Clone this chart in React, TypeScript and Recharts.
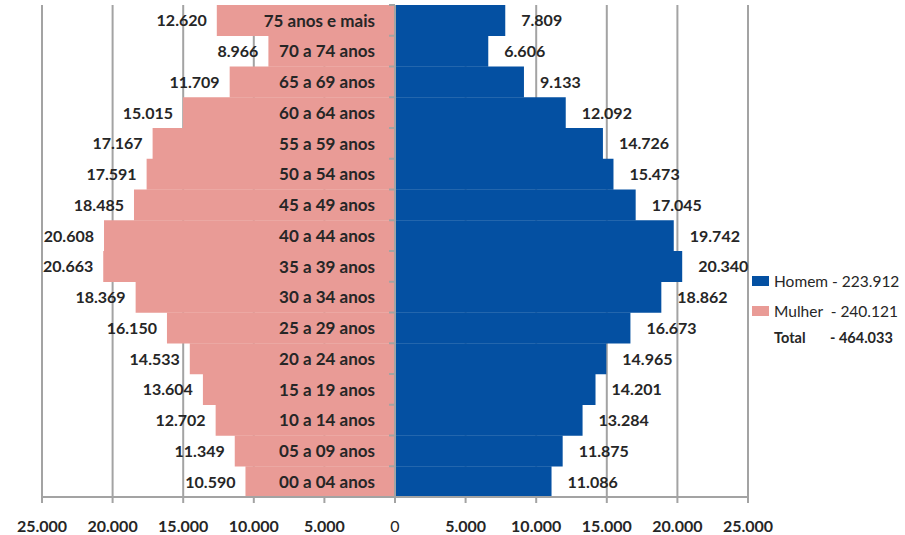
import React from 'react';
import {
  BarChart,
  Bar,
  XAxis,
  YAxis,
  CartesianGrid,
  ReferenceLine,
  LabelList,
  Legend,
} from 'recharts';

// faixas etárias, de cima para baixo
const faixas = [
  '75 anos e mais',
  '70 a 74 anos',
  '65 a 69 anos',
  '60 a 64 anos',
  '55 a 59 anos',
  '50 a 54 anos',
  '45 a 49 anos',
  '40 a 44 anos',
  '35 a 39 anos',
  '30 a 34 anos',
  '25 a 29 anos',
  '20 a 24 anos',
  '15 a 19 anos',
  '10 a 14 anos',
  '05 a 09 anos',
  '00 a 04 anos',
];

const mulheres = [
  12620, 8966, 11709, 15015, 17167, 17591, 18485, 20608, 20663, 18369, 16150,
  14533, 13604, 12702, 11349, 10590,
];

const homens = [
  7809, 6606, 9133, 12092, 14726, 15473, 17045, 19742, 20340, 18862, 16673,
  14965, 14201, 13284, 11875, 11086,
];

const eixoTicks = [-25000, -20000, -15000, -10000, -5000, 0, 5000, 10000, 15000, 20000, 25000];

const AZUL = '#0450a2';
const ROSA = '#e99b96';
const CINZA = '#a3a3a3';
const TEXTO = '#262626';
const FONTE = 'Lato, "Open Sans", sans-serif';

const fmt = (v: number) =>
  String(Math.abs(Math.round(v))).replace(/\B(?=(\d{3})+(?!\d))/g, '.');

const data = faixas.map((faixa, i) => ({
  faixa,
  mulher: -mulheres[i],
  homem: homens[i],
  mulherAbs: mulheres[i],
}));

const totalHomem = homens.reduce((a, b) => a + b, 0);
const totalMulher = mulheres.reduce((a, b) => a + b, 0);

const ValorMulher = (props: any) => {
  const { x, y, width, height, value } = props;
  const left = Math.min(x, x + width);
  return (
    <text
      x={left - 10}
      y={y + height / 2}
      dy="0.36em"
      textAnchor="end"
      fill={TEXTO}
      fontSize={16}
      fontWeight={700}
    >
      {fmt(value)}
    </text>
  );
};

const NomeFaixa = (props: any) => {
  const { x, y, width, height, value } = props;
  const right = Math.max(x, x + width);
  return (
    <g>
      <line x1={right - 6} x2={right} y1={y} y2={y} stroke={CINZA} strokeWidth={2} />
      <text
        x={right - 20}
        y={y + height / 2}
        dy="0.36em"
        textAnchor="end"
        fill={TEXTO}
        fontSize={17}
        fontWeight={700}
      >
        {value}
      </text>
    </g>
  );
};

const ValorHomem = (props: any) => {
  const { x, y, width, height, value } = props;
  const right = Math.max(x, x + width);
  return (
    <text
      x={right + 16}
      y={y + height / 2}
      dy="0.36em"
      textAnchor="start"
      fill={TEXTO}
      fontSize={16}
      fontWeight={700}
    >
      {fmt(value)}
    </text>
  );
};

const TickEixo = (props: any) => {
  const { x, y, payload } = props;
  return (
    <text
      x={x}
      y={y + 27}
      textAnchor="middle"
      fill={TEXTO}
      fontSize={16}
      fontWeight={payload.value === 0 ? 400 : 700}
    >
      {fmt(payload.value)}
    </text>
  );
};

const Legenda = () => (
  <div style={{ fontFamily: FONTE, fontSize: 15.5, color: TEXTO }}>
    <div style={{ display: 'flex', alignItems: 'center', height: 22 }}>
      <span style={{ width: 17, height: 10, background: AZUL, marginRight: 5 }} />
      <span>Homem - {fmt(totalHomem)}</span>
    </div>
    <div style={{ display: 'flex', alignItems: 'center', height: 22, marginTop: 8 }}>
      <span style={{ width: 17, height: 10, background: ROSA, marginRight: 5 }} />
      <span>Mulher&nbsp; - {fmt(totalMulher)}</span>
    </div>
    <div style={{ display: 'flex', alignItems: 'center', height: 22, marginTop: 4, fontWeight: 700, fontSize: 14.5 }}>
      <span style={{ width: 22 }} />
      <span style={{ width: 56 }}>Total</span>
      <span>- {fmt(totalHomem + totalMulher)}</span>
    </div>
  </div>
);

export default function App() {
  return (
    <div style={{ position: 'absolute', left: 0, top: 0, fontFamily: FONTE }}>
      <BarChart
        width={905}
        height={535}
        data={data}
        layout="vertical"
        stackOffset="sign"
        barCategoryGap={0}
        margin={{ top: 5, right: 7, bottom: 8, left: 42 }}
      >
        <CartesianGrid horizontal={false} stroke={CINZA} strokeWidth={2} />
        <XAxis
          type="number"
          domain={[-25000, 25000]}
          ticks={eixoTicks}
          interval={0}
          height={30}
          axisLine={{ stroke: CINZA, strokeWidth: 2 }}
          tickLine={{ stroke: CINZA, strokeWidth: 2 }}
          tickSize={6}
          tick={<TickEixo />}
        />
        <YAxis type="category" dataKey="faixa" hide />
        <Bar dataKey="mulher" stackId="p" fill={ROSA} isAnimationActive={false}>
          <LabelList dataKey="mulherAbs" content={<ValorMulher />} />
          <LabelList dataKey="faixa" content={<NomeFaixa />} />
        </Bar>
        <Bar dataKey="homem" stackId="p" fill={AZUL} isAnimationActive={false}>
          <LabelList dataKey="homem" content={<ValorHomem />} />
        </Bar>
        <ReferenceLine x={0} stroke={CINZA} strokeWidth={2} />
        <Legend
          layout="vertical"
          verticalAlign="top"
          align="right"
          wrapperStyle={{ left: 752, top: 270, width: 150 }}
          content={<Legenda />}
        />
      </BarChart>
    </div>
  );
}
